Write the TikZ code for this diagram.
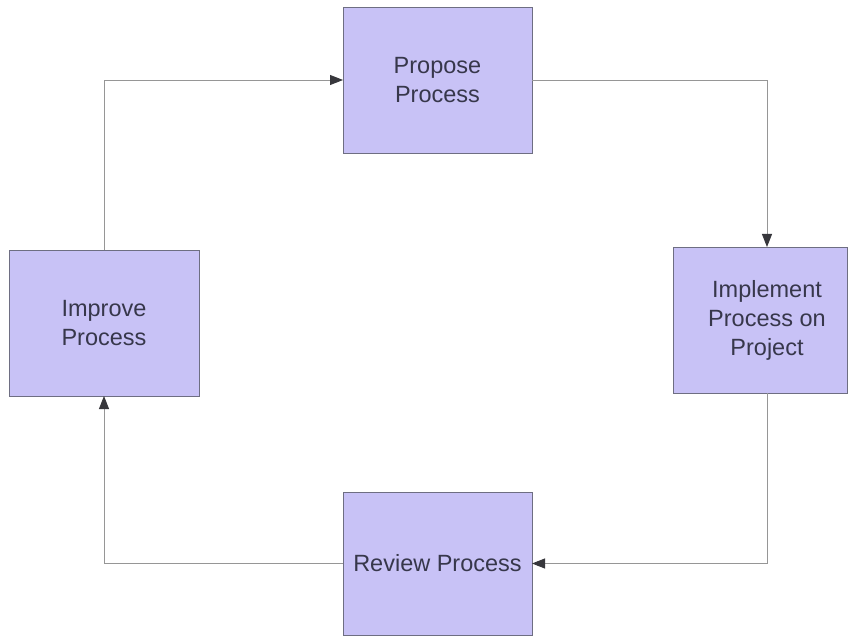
\documentclass[tikz,border=0pt]{standalone}
\usepackage{fontspec}
\setmainfont{Liberation Sans}
\usetikzlibrary{arrows.meta,calc}
\definecolor{boxfill}{RGB}{200,194,246}
\definecolor{boxline}{RGB}{110,110,130}
\definecolor{txt}{RGB}{55,55,75}
\definecolor{conn}{RGB}{150,150,150}
\definecolor{tip}{RGB}{55,55,60}
\begin{document}
\begin{tikzpicture}[x=1pt,y=-1pt,
  procbox/.style={draw=boxline,fill=boxfill,line width=0.8pt,inner sep=0pt,outer sep=0pt,align=center,text=txt,font=\fontsize{23.5}{29}\selectfont},
  boxtext/.style={inner sep=0pt,align=center,text=txt,font=\fontsize{23.5}{29}\selectfont},
  conline/.style={draw=conn,line width=0.9pt,-{Triangle[length=13pt,width=10pt,color=tip]}}]
\useasboundingbox (0,0) rectangle (849,636);
\fill[white] (0,0) rectangle (849,636);
\node[procbox,minimum width=189pt,minimum height=146pt] (prop) at (437.5,80) {Propose\\Process};
\node[procbox,minimum width=190pt,minimum height=146pt] (impr) at (104,323) {Improve\\Process};
\node[procbox,minimum width=174pt,minimum height=146pt] (impl) at (760,320) {};
\node[boxtext] (implt) at (767,320) {Implement\\Process on\\Project};
\node[procbox,minimum width=189pt,minimum height=143pt] (rev) at (437.5,563.5) {Review Process};
\draw[conline] (impr.north) |- (prop.west);
\draw[conline] (prop.east) -| ([xshift=7pt]impl.north);
\draw[conline] ([xshift=7pt]impl.south) |- (rev.east);
\draw[conline] (rev.west) -| (impr.south);
\end{tikzpicture}
\end{document}
